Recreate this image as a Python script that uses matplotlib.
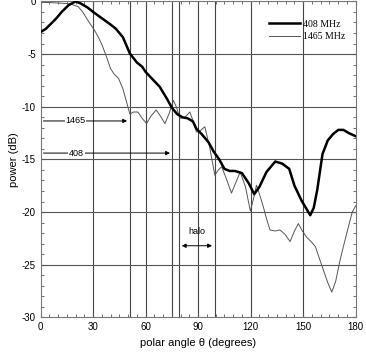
import numpy as np
import matplotlib as mpl
mpl.use('Agg')
import matplotlib.pyplot as plt

plt.rcParams['font.family'] = ['Liberation Sans', 'DejaVu Sans']
plt.rcParams['axes.unicode_minus'] = False

# 408 MHz beam (thick)
theta_408 = [0, 3, 6, 9, 12, 16, 20, 23, 27, 30, 35, 40, 43, 47, 51, 55, 58, 60, 64, 68,
             72, 75, 78, 81, 84, 87, 89, 92, 96, 99, 102, 105, 108, 111, 115, 119, 122,
             125, 129, 134, 138, 142, 145, 149, 154, 156, 158, 161, 164, 167, 170, 173,
             176, 180]
power_408 = [-2.9, -2.6, -2.1, -1.6, -1.0, -0.35, 0.0, -0.2, -0.6, -1.0, -1.6, -2.2, -2.6,
             -3.4, -4.95, -5.8, -6.2, -6.7, -7.4, -8.1, -9.2, -10.1, -10.7, -11.0, -11.1,
             -11.4, -12.1, -12.6, -13.4, -14.3, -15.0, -15.9, -16.1, -16.1, -16.3, -17.3,
             -18.3, -17.6, -16.2, -15.2, -15.4, -15.9, -17.5, -18.9, -20.3, -19.6, -17.9,
             -14.5, -13.2, -12.6, -12.2, -12.2, -12.5, -12.8]

# 1465 MHz beam (thin)
theta_1465 = [0, 5, 10, 15, 18, 21.5, 24, 27, 29, 31, 33, 35, 37.5, 40, 42, 44.5, 47, 49,
              51, 53, 55.5, 58, 60.5, 63, 66, 68.5, 71, 73.5, 75.8, 77.5, 79.6, 82.5, 85.2,
              87, 89, 91, 93.8, 96.5, 99.5, 101.5, 103.4, 106, 109, 111.5, 114, 117, 119.8,
              121.5, 123.3, 125, 127.2, 129, 131, 134, 136.7, 139.5, 142.5, 145, 147.2,
              149.5, 152, 154.5, 157, 159, 161.5, 164, 166.3, 168.5, 171, 173.5, 175.8,
              178, 180]
power_1465 = [-0.1, -0.1, -0.15, -0.2, -0.3, -0.5, -1.0, -1.8, -2.3, -2.8, -3.4, -4.1,
              -5.2, -6.4, -6.9, -7.3, -8.3, -9.5, -10.7, -10.5, -10.5, -11.1, -11.6, -10.9,
              -10.3, -10.9, -11.6, -10.6, -9.4, -10.0, -11.1, -11.0, -10.5, -11.3, -12.4,
              -12.3, -11.9, -13.8, -16.5, -16.0, -15.7, -16.8, -18.2, -17.2, -16.2, -17.6,
              -19.9, -18.8, -17.45, -18.3, -19.5, -20.6, -21.7, -21.8, -21.7, -22.1, -22.8,
              -21.8, -21.1, -21.8, -22.4, -22.8, -23.3, -24.3, -25.5, -26.7, -27.6, -26.6,
              -24.6, -22.9, -21.4, -20.0, -19.4]

grid_theta = [30, 51, 60, 75, 79, 90, 99.5, 120, 150]
grid_power = [-5, -10, -15, -20, -25]

fig = plt.figure(figsize=(3.66, 3.59), dpi=100)
ax = fig.add_axes([0.111, 0.116, 0.861, 0.880])

for g in grid_theta:
    ax.axvline(g, color='#444444', lw=0.8, zorder=1)
for g in grid_power:
    ax.axhline(g, color='#555555', lw=0.8, zorder=1)

ax.plot(theta_408, power_408, color='black', lw=1.8, label='408 MHz', zorder=3)
ax.plot(theta_1465, power_1465, color='#555555', lw=0.7, label='1465 MHz', zorder=2)

# arrows
ax.annotate('', xy=(51, -11.35), xytext=(0, -11.35),
            arrowprops=dict(arrowstyle='-|>', color='black', lw=0.7, mutation_scale=6))
ax.text(20, -11.35, '1465', fontsize=6.5, ha='center', va='center',
        bbox=dict(facecolor='white', edgecolor='none', pad=0.5))
ax.annotate('', xy=(75.5, -14.4), xytext=(0, -14.4),
            arrowprops=dict(arrowstyle='-|>', color='black', lw=0.7, mutation_scale=6))
ax.text(20.5, -14.4, '408', fontsize=6.5, ha='center', va='center',
        bbox=dict(facecolor='white', edgecolor='none', pad=0.5))
ax.annotate('', xy=(99.5, -23.2), xytext=(79, -23.2),
            arrowprops=dict(arrowstyle='<|-|>', color='black', lw=0.7, mutation_scale=6))
ax.text(89.3, -22.3, 'halo', fontsize=6.5, ha='center', va='bottom')

ax.set_xlim(0, 180)
ax.set_ylim(-30, 0)
ax.set_xticks(np.arange(0, 181, 30))
ax.set_xticks(np.arange(0, 181, 5), minor=True)
ax.set_yticks(np.arange(-30, 1, 5))
ax.set_yticks(np.arange(-30, 1, 1), minor=True)
ax.tick_params(which='both', direction='in', top=True, right=True, labelsize=7, color='#555555')
ax.tick_params(which='major', length=3)
ax.tick_params(which='minor', length=2)
for s in ax.spines.values():
    s.set_color('#777777')
    s.set_linewidth(0.8)

ax.set_xlabel('polar angle θ (degrees)', fontsize=8)
ax.set_ylabel('power (dB)', fontsize=8, labelpad=2)

leg = ax.legend(loc='upper right', bbox_to_anchor=(0.995, 0.97), frameon=False,
                prop={'family': 'Liberation Serif', 'size': 7}, handlelength=3.2,
                handletextpad=0.3, labelspacing=0.35)

fig.savefig('out.png', dpi=100)
